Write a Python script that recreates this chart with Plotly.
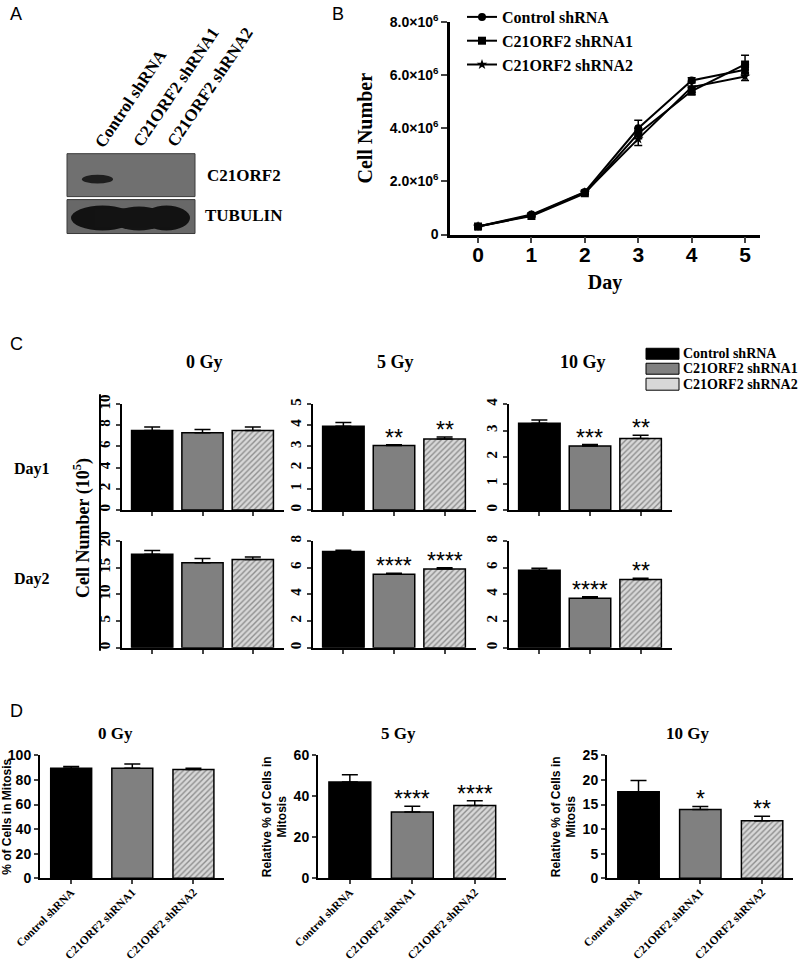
import plotly.graph_objects as go

W, H = 800, 964
SERIF = "Liberation Serif, Times New Roman, serif"
SANS = "Liberation Sans, Arial, sans-serif"

# ------------------------------------------------------------------ data
conditions = ["Control shRNA", "C21ORF2 shRNA1", "C21ORF2 shRNA2"]

# Panel B: growth curves
days = [0, 1, 2, 3, 4, 5]
growth_control = [0.30e6, 0.75e6, 1.60e6, 4.00e6, 5.80e6, 6.20e6]
growth_control_err = [0.03e6, 0.05e6, 0.06e6, 0.30e6, 0.10e6, 0.20e6]
growth_sh1 = [0.30e6, 0.70e6, 1.55e6, 3.80e6, 5.40e6, 6.40e6]
growth_sh1_err = [0.03e6, 0.05e6, 0.05e6, 0.20e6, 0.15e6, 0.35e6]
growth_sh2 = [0.30e6, 0.72e6, 1.58e6, 3.60e6, 5.55e6, 5.95e6]
growth_sh2_err = [0.03e6, 0.04e6, 0.05e6, 0.25e6, 0.20e6, 0.15e6]
b_ytick_vals = [0, 2e6, 4e6, 6e6, 8e6]
b_ytick_text = ["0", "2.0×10<sup>6</sup>", "4.0×10<sup>6</sup>",
                "6.0×10<sup>6</sup>", "8.0×10<sup>6</sup>"]

# Panel C: cell number (10^5)
c_doses = ["0 Gy", "5 Gy", "10 Gy"]
c_day1_0gy = [7.5, 7.3, 7.5]
c_day1_0gy_err = [0.35, 0.3, 0.35]
c_day1_5gy = [3.95, 3.05, 3.35]
c_day1_5gy_err = [0.18, 0.03, 0.10]
c_day1_10gy = [3.28, 2.42, 2.70]
c_day1_10gy_err = [0.12, 0.05, 0.12]
c_day2_0gy = [17.5, 15.9, 16.5]
c_day2_0gy_err = [0.7, 0.8, 0.5]
c_day2_5gy = [7.2, 5.5, 5.9]
c_day2_5gy_err = [0.10, 0.08, 0.08]
c_day2_10gy = [5.8, 3.7, 5.1]
c_day2_10gy_err = [0.15, 0.12, 0.10]
c_day1_5gy_sig = ["", "**", "**"]
c_day1_10gy_sig = ["", "***", "**"]
c_day2_5gy_sig = ["", "****", "****"]
c_day2_10gy_sig = ["", "****", "**"]
c_day1_ticks_0gy = [0, 2, 4, 6, 8, 10]
c_day1_ticks_5gy = [0, 1, 2, 3, 4, 5]
c_day1_ticks_10gy = [0, 1, 2, 3, 4]
c_day2_ticks_0gy = [0, 5, 10, 15, 20]
c_day2_ticks_5gy = [0, 2, 4, 6, 8]
c_day2_ticks_10gy = [0, 2, 4, 6, 8]

# Panel D: % cells in mitosis
d_0gy = [89.5, 89.5, 88.5]
d_0gy_err = [1.5, 3.5, 1.0]
d_5gy = [47.0, 32.3, 35.5]
d_5gy_err = [3.5, 2.8, 2.3]
d_10gy = [17.6, 14.0, 11.7]
d_10gy_err = [2.3, 0.6, 0.9]
d_5gy_sig = ["", "****", "****"]
d_10gy_sig = ["", "*", "**"]
d_ticks_0gy = [0, 20, 40, 60, 80, 100]
d_ticks_5gy = [0, 20, 40, 60]
d_ticks_10gy = [0, 5, 10, 15, 20, 25]

# ------------------------------------------------------------------ helpers
def px(x):
    return x / W


def py(y):
    return 1 - y / H


def dx(x0, x1):
    return [x0 / W, x1 / W]


def dy(top, bot):
    return [1 - bot / H, 1 - top / H]


BAR_COLORS = ["#000000", "#808080", "#d8d8d8"]
BAR_PATTERNS = ["", "", "/"]

fig = go.Figure()
layout = dict(
    width=W, height=H, margin=dict(l=0, r=0, t=0, b=0),
    paper_bgcolor="white", plot_bgcolor="white",
    barmode="overlay", showlegend=True,
)
annotations = []
shapes = []

# ------------------------------------------------------------------ panel B
markers = ["circle", "square", "star"]
for name, ys, es, sym in zip(conditions,
                             [growth_control, growth_sh1, growth_sh2],
                             [growth_control_err, growth_sh1_err, growth_sh2_err],
                             markers):
    fig.add_trace(go.Scatter(
        x=days, y=ys, name=name, mode="lines+markers",
        line=dict(color="black", width=2),
        marker=dict(symbol=sym, size=8, color="black"),
        error_y=dict(type="data", array=es, color="black", thickness=1.5, width=4),
        xaxis="x", yaxis="y", legend="legend",
    ))

layout["xaxis"] = dict(
    domain=dx(450, 760), range=[-0.525, 5.28], anchor="y",
    tickvals=days, ticks="outside", ticklen=6, tickwidth=2,
    showline=True, linewidth=2.5, linecolor="black", showgrid=False, zeroline=False,
    tickfont=dict(family=SANS, size=21, weight="bold", color="black"),
    ticklabelstandoff=-6,
    title=dict(text="Day", font=dict(family=SERIF, size=20, weight="bold", color="black"),
               standoff=10),
    automargin=False,
)
layout["yaxis"] = dict(
    domain=dy(20, 233), range=[0, 8e6], anchor="x",
    tickvals=b_ytick_vals, ticktext=b_ytick_text, ticks="outside", ticklen=6, tickwidth=2,
    showline=True, linewidth=2.5, linecolor="black", showgrid=False, zeroline=False,
    tickfont=dict(family=SANS, size=14, weight="bold", color="black"),
    title=dict(text="Cell Number", font=dict(family=SERIF, size=20, weight="bold", color="black"),
               standoff=12),
    automargin=False,
)
layout["legend"] = dict(
    x=px(462), y=py(-2), xanchor="left", yanchor="top",
    bgcolor="rgba(0,0,0,0)", itemwidth=30, tracegroupgap=0,
    font=dict(family=SERIF, size=16, weight="bold", color="black"),
)

# ------------------------------------------------------------------ bar helper
def add_bar_panel(idx, vals, errs, xdom, ydom, yticks, yrange, width, sig=None,
                  c_style=True, ytitle=None, star_shift=-8):
    xa, ya = f"x{idx}", f"y{idx}"
    fig.add_trace(go.Bar(
        x=conditions, y=vals, width=width, showlegend=False,
        marker=dict(color=BAR_COLORS, line=dict(color="black", width=1.5),
                    pattern=dict(shape=BAR_PATTERNS, fgcolor="#505050",
                                 bgcolor=BAR_COLORS, size=4, solidity=0.35,
                                 fillmode="overlay")),
        error_y=dict(type="data", array=errs, arrayminus=[0, 0, 0], symmetric=False,
                     color="black", thickness=1.5, width=8),
        xaxis=xa, yaxis=ya,
    ))
    xkey, ykey = f"xaxis{idx}", f"yaxis{idx}"
    xconf = dict(
        domain=xdom, anchor=ya, type="category", categoryorder="array",
        categoryarray=conditions, range=[-0.6, 2.62] if c_style else [-0.51, 2.5],
        ticks="outside", ticklen=4, tickwidth=1.5, showline=True, linewidth=2,
        linecolor="black", showgrid=False, zeroline=False, automargin=False,
    )
    if c_style:
        xconf["showticklabels"] = False
    else:
        xconf.update(tickangle=-45, ticklabelstandoff=-3,
                     tickfont=dict(family=SERIF, size=11.5, weight="bold", color="black"))
    yconf = dict(
        domain=ydom, anchor=xa, range=yrange, tickvals=yticks,
        ticks="outside", ticklen=4, tickwidth=1.5, showline=True, linewidth=2,
        linecolor="black", showgrid=False, zeroline=False, automargin=False,
    )
    if c_style:
        yconf.update(tickangle=-90,
                     tickfont=dict(family=SERIF, size=15, weight="bold", color="black"))
    else:
        yconf.update(tickfont=dict(family=SANS, size=14, weight="bold", color="black"))
    if ytitle:
        yconf["title"] = dict(text=ytitle, standoff=4,
                              font=dict(family=SANS, size=12, weight="bold", color="black"))
    layout[xkey] = xconf
    layout[ykey] = yconf
    if sig:
        for c, v, e, s in zip(conditions, vals, errs, sig):
            if s:
                annotations.append(dict(
                    x=c, y=v + e, xref=xa, yref=ya, text=s, showarrow=False,
                    yanchor="bottom", yshift=star_shift,
                    font=dict(family=SANS, size=23, color="black")))


# ------------------------------------------------------------------ panel C
C_XDOMS = [dx(122, 284), dx(313, 476), dx(509, 672)]
C_ROW1 = dy(403, 509)
C_ROW2 = dy(540, 647)
add_bar_panel(2, c_day1_0gy, c_day1_0gy_err, C_XDOMS[0], C_ROW1, c_day1_ticks_0gy, [0, 10], 0.82)
add_bar_panel(3, c_day1_5gy, c_day1_5gy_err, C_XDOMS[1], C_ROW1, c_day1_ticks_5gy, [0, 5], 0.82,
              sig=c_day1_5gy_sig)
add_bar_panel(4, c_day1_10gy, c_day1_10gy_err, C_XDOMS[2], C_ROW1, c_day1_ticks_10gy, [0, 4], 0.82,
              sig=c_day1_10gy_sig)
add_bar_panel(5, c_day2_0gy, c_day2_0gy_err, C_XDOMS[0], C_ROW2, c_day2_ticks_0gy, [0, 20], 0.82)
add_bar_panel(6, c_day2_5gy, c_day2_5gy_err, C_XDOMS[1], C_ROW2, c_day2_ticks_5gy, [0, 8], 0.82,
              sig=c_day2_5gy_sig)
add_bar_panel(7, c_day2_10gy, c_day2_10gy_err, C_XDOMS[2], C_ROW2, c_day2_ticks_10gy, [0, 8], 0.82,
              sig=c_day2_10gy_sig)

# ------------------------------------------------------------------ panel D
D_ROW = dy(755, 878)
add_bar_panel(8, d_0gy, d_0gy_err, dx(40, 224), D_ROW, d_ticks_0gy, [0, 100], 0.67,
              c_style=False, ytitle="% of Cells in Mitosis")
add_bar_panel(9, d_5gy, d_5gy_err, dx(318, 506), D_ROW, d_ticks_5gy, [0, 60], 0.67,
              sig=d_5gy_sig, c_style=False, ytitle="Relative % of Cells in<br>Mitosis")
add_bar_panel(10, d_10gy, d_10gy_err, dx(607, 793), D_ROW, d_ticks_10gy, [0, 25], 0.67,
              sig=d_10gy_sig, c_style=False, ytitle="Relative % of Cells in<br>Mitosis")

# ------------------------------------------------------------------ text annotations
def note(x, y, text, size, family=SERIF, bold=True, angle=0, xanchor="center", yanchor="middle"):
    annotations.append(dict(
        x=px(x), y=py(y), xref="paper", yref="paper", text=text, showarrow=False,
        xanchor=xanchor, yanchor=yanchor, textangle=angle,
        font=dict(family=family, size=size, weight="bold" if bold else "normal", color="black")))


# panel letters
note(8, 12, "A", 18, family=SANS, bold=False, xanchor="left")
note(330, 12, "B", 18, family=SANS, bold=False, xanchor="left")
note(8, 343, "C", 18, family=SANS, bold=False, xanchor="left")
note(8, 710, "D", 18, family=SANS, bold=False, xanchor="left")

# panel A lane labels and blot labels
note(131, 97, "Control shRNA", 17, angle=-56)
note(176, 86, "C21ORF2 shRNA1", 17, angle=-56)
note(210, 86, "C21ORF2 shRNA2", 17, angle=-56)
note(205, 174, "C21ORF2", 17, xanchor="left")
note(203, 214, "TUBULIN", 17, xanchor="left")

# panel C labels
for x, d in zip([204, 395, 583], c_doses):
    note(x, 361, d, 18)
note(12, 468, "Day1", 16, xanchor="left")
note(12, 578, "Day2", 16, xanchor="left")
note(82, 527, "Cell Number (10<sup>5</sup>)", 18, angle=-90)

# panel C legend (boxes + labels)
legend_rows = [(347, 358), (362, 373), (377, 389)]
for (t, b), col, name in zip(legend_rows, BAR_COLORS, conditions):
    shapes.append(dict(type="rect", xref="paper", yref="paper",
                       x0=px(646), x1=px(679), y0=py(b), y1=py(t),
                       fillcolor=col, line=dict(color="black", width=1)))
    note(681, (t + b) / 2, name, 14, xanchor="left")

# panel D titles
for x, d in zip([116, 398, 687], c_doses):
    note(x, 733, d, 17)

# ------------------------------------------------------------------ blot drawing (panel A)
def rect(x0, y0, x1, y1, fill, line_col=None, lw=0, kind="rect"):
    shapes.append(dict(type=kind, xref="paper", yref="paper",
                       x0=px(x0), x1=px(x1), y0=py(y1), y1=py(y0),
                       fillcolor=fill, line=dict(color=line_col or fill, width=lw),
                       layer="above"))


rect(67, 152, 195, 195, "#707070", "#3a3a3a", 1)
rect(82, 173, 113, 182, "#1e1e1e", kind="circle")
rect(67, 198, 195, 232, "#686868", "#3a3a3a", 1)
rect(71, 204, 134, 229, "#121212", kind="circle")
rect(112, 205, 166, 229, "#141414", kind="circle")
rect(143, 204, 190, 229, "#121212", kind="circle")
rect(95, 207, 170, 226, "#131313")

# divider line for panel C shared axis title
shapes.append(dict(type="line", xref="paper", yref="paper",
                   x0=px(100), x1=px(100), y0=py(650), y1=py(393),
                   line=dict(color="black", width=2)))

layout["annotations"] = annotations
layout["shapes"] = shapes
fig.update_layout(**layout)
fig.write_html("out.html", config={"displayModeBar": False},
               post_script="document.body.style.margin='0px';document.body.style.overflow='hidden';")
